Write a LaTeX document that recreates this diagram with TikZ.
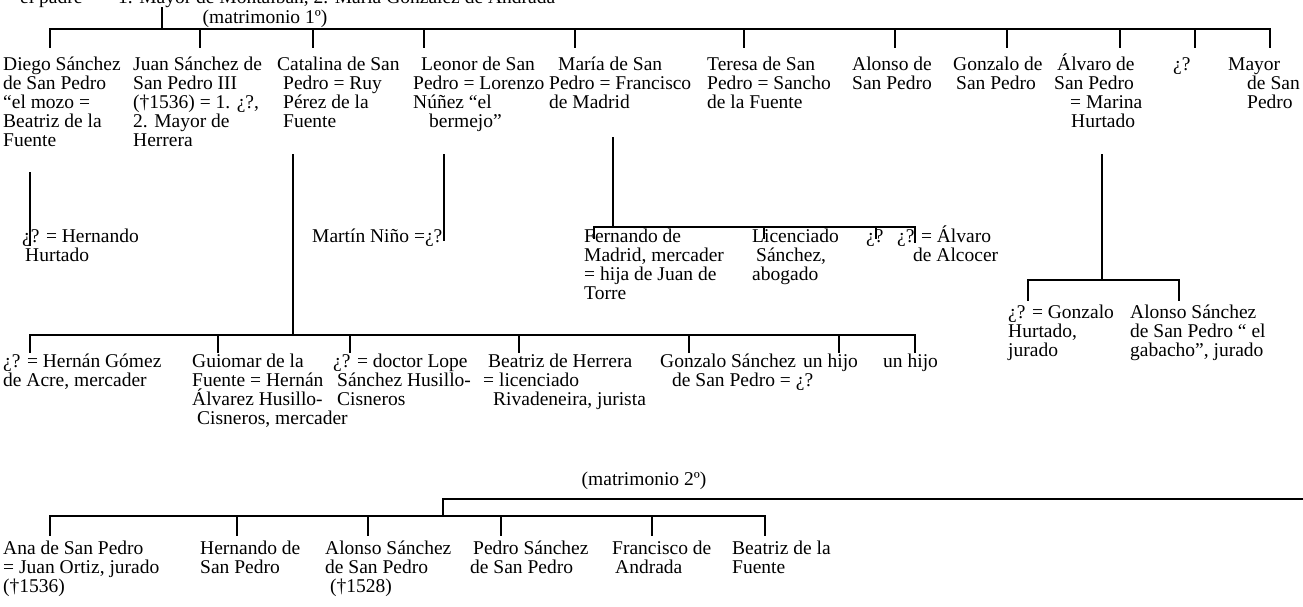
\documentclass[tikz,border=0pt]{standalone}
\usepackage{fontspec}
\setmainfont{Liberation Serif}
\newcommand{\fstrut}{\rule{0pt}{19pt}}
\begin{document}
\begin{tikzpicture}[x=1pt,y=-1pt,
  txt/.style={anchor=north west,inner sep=0pt,align=left,font=\fontsize{19.5}{19}\selectfont},
  lab/.style={anchor=base,inner sep=0pt,font=\fontsize{19.5}{19}\selectfont},
  labw/.style={anchor=base west,inner sep=0pt,font=\fontsize{19.5}{19}\selectfont},
  ln/.style={line width=1.4pt,line cap=rect}]
\useasboundingbox (0,0) rectangle (1303,606);
\clip (0,0) rectangle (1303,606);

% top (cut) line
\node[labw] (padre) at (20,3) {el padre};
\node[labw] (madres) at (118,3) {1. Mayor de Montalbán, 2. María González de Andrada};
\node[lab] (mat1) at (265,23) {(matrimonio 1º)};
\node[lab] (mat2) at (644,485) {(matrimonio 2º)};

% row 1
\node[txt] (d1) at (3,51) {\fstrut Diego Sánchez\\de San Pedro\\“el mozo =\\Beatriz de la\\Fuente};
\node[txt] (d2) at (133,51) {\fstrut Juan Sánchez de\\San Pedro III\\(†1536) = 1. ¿?,\\2. Mayor de\\Herrera};
\node[txt] (d3) at (277,51) {\fstrut Catalina de San\\\hspace*{6pt}Pedro = Ruy\\\hspace*{6pt}Pérez de la\\\hspace*{6pt}Fuente};
\node[txt] (d4) at (413,51) {\fstrut\hspace*{8pt}Leonor de San\\Pedro = Lorenzo\\Núñez “el\\\hspace*{16pt}bermejo”};
\node[txt] (d5) at (549,51) {\fstrut\hspace*{9pt}María de San\\Pedro = Francisco\\de Madrid};
\node[txt] (d6) at (707,51) {\fstrut Teresa de San\\Pedro = Sancho\\de la Fuente};
\node[txt] (d7) at (852,51) {\fstrut Alonso de\\San Pedro};
\node[txt] (d8) at (953,51) {\fstrut Gonzalo de\\\hspace*{3pt}San Pedro};
\node[txt] (d9) at (1054,51) {\fstrut\hspace*{3pt}Álvaro de\\San Pedro\\\hspace*{16pt}= Marina\\\hspace*{17pt}Hurtado};
\node[txt] (d10) at (1173,51) {\fstrut ¿?};
\node[txt] (d11) at (1228,51) {\fstrut Mayor\\\hspace*{19pt}de San\\\hspace*{19pt}Pedro};

% row 2
\node[txt] (e1) at (22,223) {\fstrut ¿? = Hernando\\\hspace*{3pt}Hurtado};
\node[txt] (e2) at (312,223) {\fstrut Martín Niño =¿?};
\node[txt] (e3) at (584,223) {\fstrut Fernando de\\Madrid, mercader\\= hija de Juan de\\Torre};
\node[txt] (e4) at (752,223) {\fstrut Licenciado\\\hspace*{4pt}Sánchez,\\abogado};
\node[txt] (e5) at (866,223) {\fstrut ¿?};
\node[txt] (e6) at (897,223) {\fstrut ¿? = Álvaro\\\hspace*{16pt}de Alcocer};

% Alvaro's children
\node[txt] (f1) at (1008,299) {\fstrut ¿? = Gonzalo\\Hurtado,\\jurado};
\node[txt] (f2) at (1130,299) {\fstrut Alonso Sánchez\\de San Pedro “ el\\gabacho”, jurado};

% row 3
\node[txt] (g1) at (3,348) {\fstrut ¿? = Hernán Gómez\\de Acre, mercader};
\node[txt] (g2) at (192,348) {\fstrut Guiomar de la\\Fuente = Hernán\\Álvarez Husillo-\\\hspace*{5pt}Cisneros, mercader};
\node[txt] (g3) at (333,348) {\fstrut ¿? = doctor Lope\\\hspace*{4pt}Sánchez Husillo-\\\hspace*{4pt}Cisneros};
\node[txt] (g4) at (483,348) {\fstrut\hspace*{5pt}Beatriz de Herrera\\= licenciado\\\hspace*{10pt}Rivadeneira, jurista};
\node[txt] (g5) at (660,348) {\fstrut Gonzalo Sánchez\\\hspace*{12pt}de San Pedro = ¿?};
\node[txt] (g6) at (803,348) {\fstrut un hijo};
\node[txt] (g7) at (883,348) {\fstrut un hijo};

% row 4
\node[txt] (h1) at (3,535) {\fstrut Ana de San Pedro\\= Juan Ortiz, jurado\\(†1536)};
\node[txt] (h2) at (200,535) {\fstrut Hernando de\\San Pedro};
\node[txt] (h3) at (325,535) {\fstrut Alonso Sánchez\\de San Pedro\\\hspace*{5pt}(†1528)};
\node[txt] (h4) at (470,535) {\fstrut\hspace*{3pt}Pedro Sánchez\\de San Pedro};
\node[txt] (h5) at (612,535) {\fstrut Francisco de\\\hspace*{3pt}Andrada};
\node[txt] (h6) at (732,535) {\fstrut Beatriz de la\\Fuente};

% ---- connectors ----
% parents stem and first bar
\coordinate (s0a) at (162,8);
\coordinate (s0b) at (162,29);
\draw[ln] (s0a) -- (s0b);
\foreach \n/\x in {1/50,2/200,3/313,4/424,5/575,6/744,7/895,8/1007,9/1120,10/1195,11/1270}{
  \coordinate (ta\n) at (\x,29);
  \coordinate (tb\n) at (\x,47);
  \draw[ln] (ta\n) -- (tb\n);
}
\draw[ln] (ta1) -- (ta11);

% Diego -> daughter
\coordinate (dg1) at (30,173); \coordinate (dg2) at (30,245);
\draw[ln] (dg1) -- (dg2);
% Leonor -> Martin
\coordinate (le1) at (444,155); \coordinate (le2) at (444,240);
\draw[ln] (le1) -- (le2);
% Maria -> children
\coordinate (ma1) at (613,138); \coordinate (ma2) at (613,227);
\draw[ln] (ma1) -- (ma2);
\foreach \n/\x/\y in {1/594/238,2/764/238,3/876/238,4/915/242}{
  \coordinate (mt\n) at (\x,227);
  \coordinate (mb\n) at (\x,\y);
  \draw[ln] (mt\n) -- (mb\n);
}
\draw[ln] (mt1) -- (mt4);
% Alvaro -> children
\coordinate (al1) at (1102,155); \coordinate (al2) at (1102,280);
\draw[ln] (al1) -- (al2);
\foreach \n/\x in {1/1028,2/1179}{
  \coordinate (at\n) at (\x,280);
  \coordinate (ab\n) at (\x,300);
  \draw[ln] (at\n) -- (ab\n);
}
\draw[ln] (at1) -- (at2);
% Catalina -> children
\coordinate (ca1) at (293,155); \coordinate (ca2) at (293,335);
\draw[ln] (ca1) -- (ca2);
\foreach \n/\x in {1/30,2/218,3/350,4/519,5/689,6/839,7/915}{
  \coordinate (ct\n) at (\x,335);
  \coordinate (cb\n) at (\x,352);
  \draw[ln] (ct\n) -- (cb\n);
}
\draw[ln] (ct1) -- (ct7);
% second marriage
\coordinate (m2r) at (1303,499); \coordinate (m2a) at (443,499); \coordinate (m2b) at (443,516);
\draw[ln] (m2r) -- (m2a) -- (m2b);
\foreach \n/\x in {1/50,2/237,3/368,4/501,5/652,6/765}{
  \coordinate (kt\n) at (\x,516);
  \coordinate (kb\n) at (\x,535);
  \draw[ln] (kt\n) -- (kb\n);
}
\draw[ln] (kt1) -- (kt6);
\end{tikzpicture}
\end{document}
